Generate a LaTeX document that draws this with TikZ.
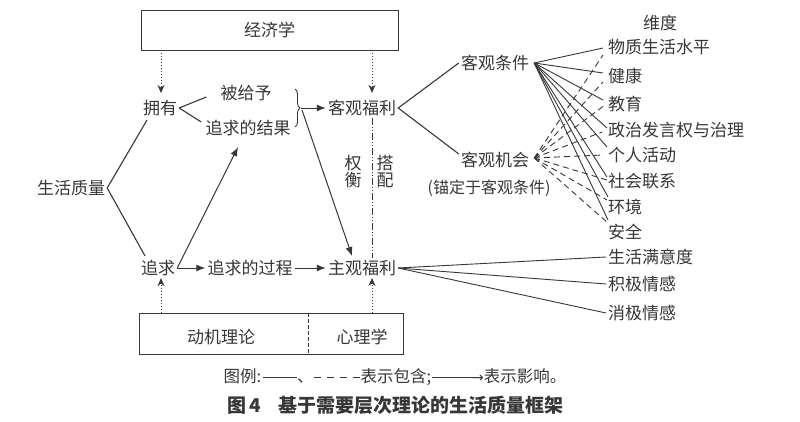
\documentclass[tikz,border=0pt]{standalone}
\usepackage{fontspec}
\setmainfont{Noto Sans CJK SC}
\newfontfamily\dejavu{DejaVu Sans}
\usetikzlibrary{arrows.meta,calc,decorations.pathreplacing}
\definecolor{ink}{RGB}{55,55,55}
\begin{document}
\begin{tikzpicture}[x=1pt,y=-1pt,
  font=\fontsize{17}{17}\selectfont,
  lbl/.style={inner sep=2pt,text=ink},
  boxed/.style={draw=ink,line width=0.9pt,inner sep=0pt},
  ln/.style={draw=ink,line width=1.1pt},
  thin/.style={draw=ink,line width=0.9pt},
  dsh/.style={draw=ink,line width=0.9pt,dash pattern=on 6pt off 4pt},
  arr/.style={draw=ink,line width=1pt,-{Latex[length=9pt,width=7pt]}},
  dotarr/.style={draw=ink,line width=1pt,dotted,-{Stealth[length=8pt,width=7pt]}},
  dashdot/.style={draw=ink,line width=1pt,dash pattern=on 7pt off 2pt on 1pt off 2pt on 1pt off 2pt}]
\fill[white] (0,0) rectangle (800,421);
\useasboundingbox (0,0) rectangle (800,421);

% top and bottom boxes
\node[boxed,minimum width=257pt,minimum height=40pt] (econ) at (269.5,30) {\textcolor{ink}{经济学}};
\node[boxed,minimum width=264pt,minimum height=41pt] (bot) at (271,333.5) {};
\coordinate (divx) at (308,0);
\draw[ink,line width=0.9pt,dash pattern=on 4pt off 2pt] (bot.north -| divx) -- (bot.south -| divx);
\node[lbl] (dj) at (221,337) {动机理论};
\node[lbl] (xl) at (362,337) {心理学};

% main nodes
\node[lbl] (shzl) at (71,188) {生活质量};
\node[lbl] (yong) at (160,108) {拥有};
\node[lbl] (bei) at (246,93) {被给予};
\node[lbl] (jg) at (248,128) {追求的结果};
\node[lbl] (kgfl) at (362,108) {客观福利};
\node[lbl] (zq) at (158,268) {追求};
\node[lbl] (gc) at (250,268) {追求的过程};
\node[lbl] (zgfl) at (362,268) {主观福利};
\node[lbl,align=center] (qh) at (353,171.5) {权\\衡};
\node[lbl,align=center] (dp) at (385,171.5) {搭\\配};
\node[lbl] (kgtj) at (495,63) {客观条件};
\node[lbl] (kgjh) at (495,160) {客观机会};
\node[lbl,font=\fontsize{16}{16}\selectfont] (mao) at (489,188) {(锚定于客观条件)};
\node[lbl] (wd) at (660,23) {维度};

\foreach \n/\t/\y in {1/物质生活水平/47,2/健康/76,3/教育/104,4/政治发言权与治理/130,5/个人活动/155,6/社会联系/181,7/环境/207,8/安全/232}
  \node[lbl,anchor=west] (d\n) at (606,\y) {\t};
\foreach \n/\t/\y in {1/生活满意度/257,2/积极情感/284,3/消极情感/313}
  \node[lbl,anchor=west] (s\n) at (606,\y) {\t};

% axis for vertical lines
\coordinate (ax) at (372,0);
\coordinate (ax2) at (161,0);

% dotted influence arrows
\draw[dotarr,shorten >=5pt] (econ.south -| ax2) -- (yong.north -| ax2);
\draw[dotarr,shorten >=5pt] (econ.south -| ax) -- (kgfl.north -| ax);
\draw[dotarr] (bot.north -| ax2) -- (zq.south -| ax2);
\draw[dotarr] (bot.north -| ax) -- (zgfl.south -| ax);

% dash-dot balance line
\draw[dashdot] (kgfl.south -| ax) -- (zgfl.north -| ax);

% life quality branches
\draw[ln] ($(yong.south)+(-13,2)$) -- (shzl.east) -- ($(zq.north)+(-13,-2)$);
\draw[ln] (yong.east) -- ($(bei.west)+(-12,4)$);
\draw[ln] (yong.east) -- ($(jg.west)+(-2,-6)$);

% brace
\coordinate (br1) at (295,89);
\coordinate (br2) at (295,127);
\coordinate (brt) at (301,108);
\draw[thin,decorate,decoration={brace,amplitude=5pt}] (br1) -- (br2);
\draw[arr] (brt) -- (kgfl.west);
\draw[arr] ($(brt)+(1,2)$) -- ($(zgfl.north)+(-10,-2)$);

% pursuit arrows
\draw[arr] (zq.east) -- ($(jg.south)+(-10,9)$);
\draw[arr] (zq.east) -- (gc.west);
\draw[arr] (gc.east) -- (zgfl.west);

% objective welfare
\draw[ln] (kgtj.west) -- (kgfl.east) -- ($(kgjh.west)+(0,-6)$);
\foreach \n/\dx/\dy in {1/-3/1,2/-3/-3,3/-3/-4,4/1/-2,5/1/-8,6/1/-4,7/2/-10,8/2/-12}
  \draw[thin] ($(kgtj.east)+(3,0)$) -- ($(d\n.west)+(\dx,\dy)$);
\foreach \n/\dx/\dy in {1/-3/8,2/-3/6,3/-1/1,4/-4/2,5/-3/0,6/1/-1,7/1/-7,8/2/-9}
  \draw[dsh] ($(kgjh.east)+(3,-2)$) -- ($(d\n.west)+(\dx,\dy)$);

% subjective welfare
\foreach \n in {1,2,3}
  \draw[thin] (zgfl.east) -- (s\n.west);

% legend and caption
\node[lbl,font=\fontsize{16.5}{16.5}\selectfont] (legend) at (395,377) {图例:\hspace{2pt}\rule[5pt]{34pt}{0.8pt}、\rule[5pt]{7pt}{0.8pt}\hspace{6pt}\rule[5pt]{7pt}{0.8pt}\hspace{6pt}\rule[5pt]{7pt}{0.8pt}\hspace{6pt}\rule[5pt]{7pt}{0.8pt}\hspace{1pt}表示包含;\hspace{1pt}\rule[5pt]{44pt}{0.8pt}\kern-4pt{\dejavu\fontsize{14}{14}\selectfont →}表示影响。};
\node[lbl,font=\fontsize{19}{19}\selectfont\bfseries] (cap) at (395.5,405) {图\,4\hspace{0.9em}基于需要层次理论的生活质量框架};
\end{tikzpicture}
\end{document}
